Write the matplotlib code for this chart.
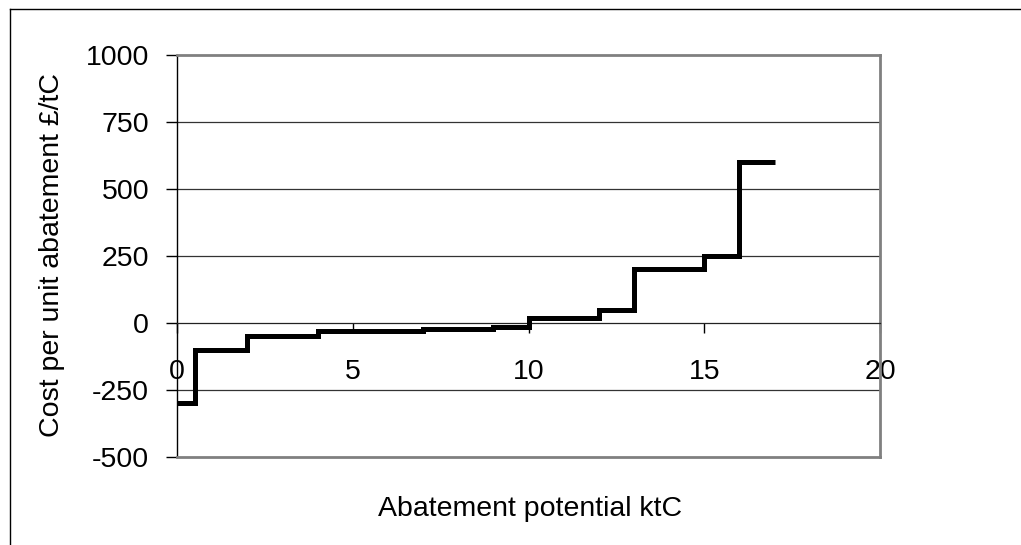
import matplotlib
matplotlib.use("Agg")
import matplotlib.pyplot as plt
from matplotlib.lines import Line2D
import numpy as np

# Marginal abatement cost curve: each measure's potential (ktC) and unit cost (£/tC)
measure_potential = [0.5, 1.5, 2, 3, 2, 1, 2, 1, 2, 1, 1]
measure_cost = [-300, -100, -50, -30, -23, -15, 20, 50, 200, 250, 600]
x_ticks = [0, 5, 10, 15, 20]
y_ticks = [-500, -250, 0, 250, 500, 750, 1000]

plt.rcParams['font.family'] = ['Liberation Sans', 'DejaVu Sans']
FS = 20.5

fig = plt.figure(figsize=(10.21, 5.45), dpi=100)
W, H = 1021, 545
ax = fig.add_axes([177 / W, 1 - 457 / H, (880 - 177) / W, (457 - 55) / H])

# axis lines (x axis crosses at zero cost)
ax.spines['bottom'].set_position(('data', 0))
ax.spines['bottom'].set_color('#222222')
ax.spines['bottom'].set_linewidth(0.9)
ax.spines['left'].set_color('black')
ax.spines['left'].set_linewidth(1.0)
for s in ('top', 'right'):
    ax.spines[s].set_color('#808080')
    ax.spines[s].set_linewidth(2.0)
ax.plot([0, 1], [0, 0], transform=ax.transAxes, color='#808080', lw=2.0,
        clip_on=False, zorder=3)

# cumulative step edges
edges = np.concatenate([[0], np.cumsum(measure_potential)])
ys = list(measure_cost) + [measure_cost[-1]]
ax.step(edges, ys, where='post', color='black', lw=3.6,
        solid_joinstyle='miter', solid_capstyle='butt', zorder=5)

ax.set_xlim(0, 20)
ax.set_ylim(-500, 1000)
ax.set_xticks(x_ticks)
ax.set_yticks(y_ticks)
ax.set_xticklabels([str(v) for v in x_ticks])
ax.set_yticklabels([str(v) for v in y_ticks])

# horizontal gridlines
for v in y_ticks:
    if v not in (-500, 1000, 0):
        ax.axhline(v, color='#333333', lw=0.9, zorder=1)

ax.tick_params(axis='y', direction='out', length=8, width=1, pad=12,
               colors='black', labelsize=FS)
ax.tick_params(axis='x', direction='out', length=7, width=1, pad=19,
               colors='black', labelsize=FS)

fig.text(530 / W, 1 - 509 / H, 'Abatement potential ktC', fontsize=FS,
         ha='center', va='center')
fig.text(52 / W, 1 - 255 / H, 'Cost per unit abatement £/tC', fontsize=FS,
         ha='center', va='center', rotation=90)

# chart frame
fig.add_artist(Line2D([10 / W, 10 / W], [0, 1 - 9 / H], color='black', lw=1.0,
                      transform=fig.transFigure))
fig.add_artist(Line2D([10 / W, 1], [1 - 9 / H, 1 - 9 / H], color='black', lw=1.0,
                      transform=fig.transFigure))

fig.savefig('out.png', dpi=100, facecolor='white')
